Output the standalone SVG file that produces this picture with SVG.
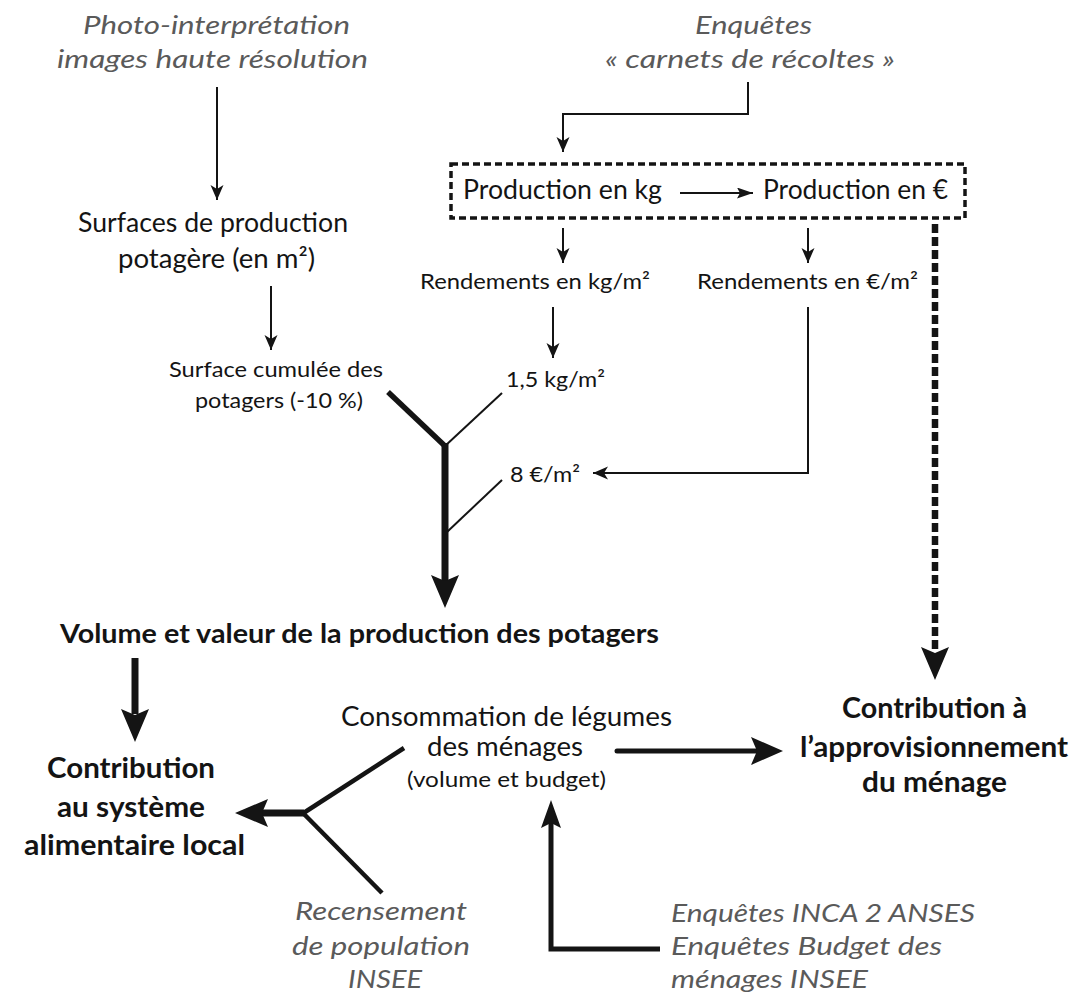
<svg xmlns="http://www.w3.org/2000/svg" width="1073" height="994" viewBox="0 0 1073 994">
<style>
text{font-family:Lato,"Open Sans","Liberation Sans",sans-serif;fill:#141414}
.src{font-style:italic;fill:#5a5a5a;font-size:26px}
.reg{font-size:26px}
.sm{font-size:21.5px}
.b{font-weight:bold;font-size:26px}
.bb{font-weight:bold;font-size:28.5px}
.thin{stroke:#141414;stroke-width:2;fill:none}
.med{stroke:#141414;stroke-width:5;fill:none}
.thick{stroke:#141414;stroke-width:7;fill:none}
.head{fill:#141414;stroke:none}
</style>
<defs>
<marker id="ah" markerUnits="userSpaceOnUse" markerWidth="16" markerHeight="14" refX="15" refY="6.5" orient="auto">
<path d="M0,0 L15,6.5 L0,13 L4,6.5 z" fill="#141414"/>
</marker>
<marker id="ahs" markerUnits="userSpaceOnUse" markerWidth="17" markerHeight="12" refX="16" refY="5.5" orient="auto">
<path d="M0,0 L16,5.5 L0,11 L3,5.5 z" fill="#141414"/>
</marker>
</defs>
<rect width="1073" height="994" fill="#ffffff"/>

<g id="connectors">
<line class="thin" x1="217" y1="87" x2="217" y2="200" marker-end="url(#ah)"/>
<line class="thin" x1="271" y1="286" x2="271" y2="350" marker-end="url(#ah)"/>
<polyline class="thin" points="748,82 748,114 563,114 563,152" marker-end="url(#ah)"/>
<line class="thin" x1="680" y1="193" x2="753" y2="193" marker-end="url(#ahs)"/>
<line class="thin" x1="563" y1="228" x2="563" y2="263" marker-end="url(#ah)"/>
<line class="thin" x1="808" y1="228" x2="808" y2="263" marker-end="url(#ah)"/>
<line class="thin" x1="553" y1="307" x2="553" y2="358" marker-end="url(#ah)"/>
<polyline class="thin" points="808,307 808,473 593,473" marker-end="url(#ah)"/>
<line x1="935" y1="224" x2="935" y2="652" stroke="#141414" stroke-width="6.5" stroke-dasharray="9 4"/>
<path class="head" d="M935,680 L921,647 L935,653 L949,647 z"/>
<line x1="388" y1="392" x2="446" y2="447" stroke="#141414" stroke-width="5.5"/>
<line class="thin" x1="502" y1="393" x2="445" y2="446"/>
<line class="thin" x1="502" y1="480" x2="447" y2="532"/>
<line class="thick" x1="445" y1="443" x2="445" y2="582"/>
<path class="head" d="M445,608 L431,575 L445,581 L459,575 z"/>
<line class="thick" x1="135" y1="658" x2="135" y2="714"/>
<path class="head" d="M135,742 L121,709 L135,715 L149,709 z"/>
<line x1="404" y1="748" x2="302" y2="814" stroke="#141414" stroke-width="4.5"/>
<line x1="382" y1="893" x2="302" y2="812" stroke="#141414" stroke-width="4.5"/>
<line class="thick" x1="304" y1="813" x2="262" y2="813"/>
<path class="head" d="M235,813 L268,799 L262,813 L268,827 z"/>
<line class="med" x1="617" y1="751" x2="757" y2="751" stroke-linecap="round"/>
<path class="head" d="M783,751 L751,737 L757,751 L751,765 z"/>
<polyline class="med" points="660,949 551,949 551,822"/>
<path class="head" d="M551,800 L541,828 L551,823 L561,828 z"/>
</g>

<g id="photo-interpretation">
<text class="src" x="83" y="34" textLength="267" lengthAdjust="spacingAndGlyphs">Photo-interprétation</text>
<text class="src" x="57" y="68" textLength="311" lengthAdjust="spacingAndGlyphs">images haute résolution</text>
</g>
<g id="enquetes-carnets">
<text class="src" x="695" y="34" textLength="117" lengthAdjust="spacingAndGlyphs">Enquêtes</text>
<text class="src" x="605" y="68" textLength="290" lengthAdjust="spacingAndGlyphs">« carnets de récoltes »</text>
</g>
<g id="production-box">
<rect x="451" y="164" width="514" height="54" fill="none" stroke="#141414" stroke-width="3.5" stroke-dasharray="7 4"/>
<text class="reg" x="463" y="199" textLength="199" lengthAdjust="spacingAndGlyphs">Production en kg</text>
<text class="reg" x="763" y="199" textLength="185" lengthAdjust="spacingAndGlyphs">Production en €</text>
</g>
<g id="surfaces">
<text class="reg" x="78" y="232" textLength="270" lengthAdjust="spacingAndGlyphs">Surfaces de production</text>
<text class="reg" x="118" y="268" textLength="197" lengthAdjust="spacingAndGlyphs">potagère (en m²)</text>
</g>
<g id="rendements-kg">
<text class="sm" x="420" y="289" textLength="230" lengthAdjust="spacingAndGlyphs">Rendements en kg/m²</text>
</g>
<g id="rendements-eur">
<text class="sm" x="697" y="289" textLength="221" lengthAdjust="spacingAndGlyphs">Rendements en €/m²</text>
</g>
<g id="surface-cumulee">
<text class="sm" x="169" y="377" textLength="214" lengthAdjust="spacingAndGlyphs">Surface cumulée des</text>
<text class="sm" x="195" y="408" textLength="168" lengthAdjust="spacingAndGlyphs">potagers (-10 %)</text>
</g>
<g id="val-kg">
<text class="sm" x="506" y="387" textLength="99" lengthAdjust="spacingAndGlyphs">1,5 kg/m²</text>
</g>
<g id="val-eur">
<text class="sm" x="510" y="482" textLength="70" lengthAdjust="spacingAndGlyphs">8 €/m²</text>
</g>
<g id="volume-valeur">
<text class="b" x="60" y="643" textLength="599" lengthAdjust="spacingAndGlyphs">Volume et valeur de la production des potagers</text>
</g>
<g id="contribution-local">
<text class="bb" x="47" y="778" textLength="168" lengthAdjust="spacingAndGlyphs">Contribution</text>
<text class="bb" x="57" y="817" textLength="148" lengthAdjust="spacingAndGlyphs">au système</text>
<text class="bb" x="24" y="855" textLength="221" lengthAdjust="spacingAndGlyphs">alimentaire local</text>
</g>
<g id="consommation">
<text class="reg" x="341" y="726" textLength="331" lengthAdjust="spacingAndGlyphs">Consommation de légumes</text>
<text class="reg" x="427" y="756" textLength="156" lengthAdjust="spacingAndGlyphs">des ménages</text>
<text class="sm" x="407" y="787" textLength="199" lengthAdjust="spacingAndGlyphs">(volume et budget)</text>
</g>
<g id="contribution-menage">
<text class="bb" x="842" y="718" textLength="185" lengthAdjust="spacingAndGlyphs">Contribution à</text>
<text class="bb" x="800" y="757" textLength="268" lengthAdjust="spacingAndGlyphs">l’approvisionnement</text>
<text class="bb" x="862" y="792" textLength="145" lengthAdjust="spacingAndGlyphs">du ménage</text>
</g>
<g id="recensement">
<text class="src" x="295" y="920" textLength="172" lengthAdjust="spacingAndGlyphs">Recensement</text>
<text class="src" x="292" y="955" textLength="178" lengthAdjust="spacingAndGlyphs">de population</text>
<text class="src" x="348" y="988" textLength="74" lengthAdjust="spacingAndGlyphs">INSEE</text>
</g>
<g id="enquetes-inca">
<text class="src" x="671" y="922" textLength="304" lengthAdjust="spacingAndGlyphs">Enquêtes INCA 2 ANSES</text>
<text class="src" x="671" y="955" textLength="271" lengthAdjust="spacingAndGlyphs">Enquêtes Budget des</text>
<text class="src" x="671" y="988" textLength="197" lengthAdjust="spacingAndGlyphs">ménages INSEE</text>
</g>
</svg>
